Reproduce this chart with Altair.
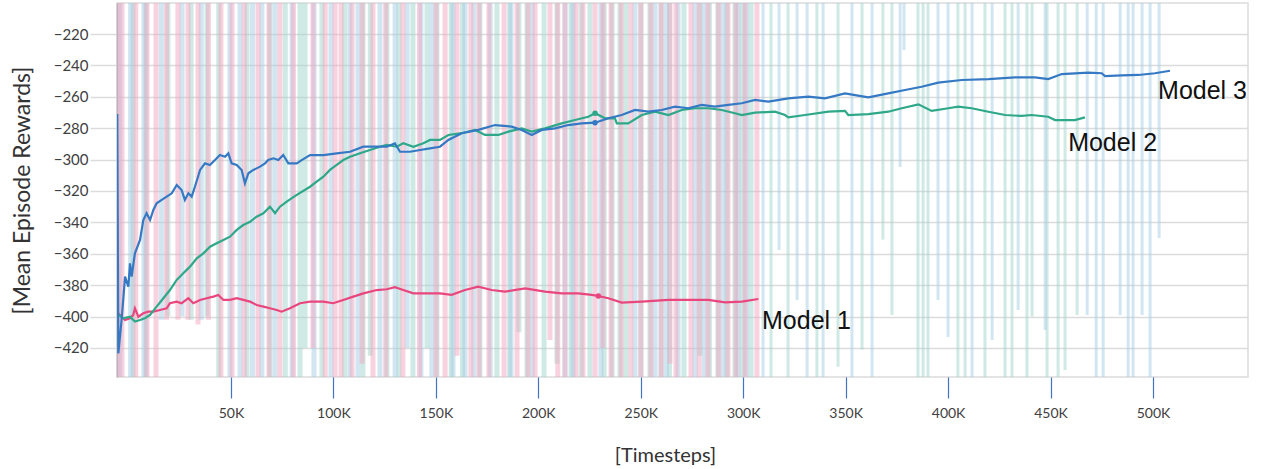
import altair as alt
import pandas as pd

# ---------------- smoothed curves (x in thousands of timesteps) ----------------
m1_x = [-5.8, -4.2, -1.7, 0.7, 2.3, 3.1, 4.8, 7.2, 9.6, 12.1,
        15.3, 18.6, 20.2, 23.5, 25.9, 29.2, 31.6, 34.9, 38.1, 41.4,
        43.8, 46.3, 49.5, 52.8, 56.0, 59.3, 62.5, 65.8, 69.0, 72.3,
        74.7, 78.8, 83.7, 88.6, 95.1, 99.9, 104.8, 109.7, 114.6, 121.1,
        126.0, 130.0, 134.1, 139.0, 145.5, 152.0, 157.7, 164.2, 170.7, 177.2,
        183.7, 193.5, 203.3, 211.4, 219.5, 226.1, 229.3, 234.2, 240.7, 250.5,
        263.5, 273.2, 283.0, 291.1, 299.3, 307.4]
m1_y = [-396.9, -399.0, -402.2, -401.1, -399.0, -394.7, -400.1, -397.9, -396.9, -396.9,
        -395.8, -394.7, -391.5, -390.5, -391.5, -388.3, -391.5, -389.4, -388.3, -387.3,
        -386.2, -389.4, -389.4, -388.3, -389.4, -390.5, -392.6, -393.7, -394.7, -395.8,
        -396.9, -394.7, -391.5, -390.5, -390.5, -391.5, -389.4, -387.3, -385.2, -383.1,
        -382.6, -381.3, -383.1, -385.2, -385.2, -385.2, -386.2, -383.1, -381.0, -383.1,
        -384.1, -382.0, -384.1, -385.2, -385.2, -386.2, -386.9, -388.3, -391.1, -390.5,
        -389.4, -389.4, -389.4, -390.9, -390.5, -388.8]

m2_x = [-5.8, -2.6, 0.7, 3.1, 5.6, 8.0, 10.5, 13.7, 17.0, 20.2,
        23.5, 26.7, 30.0, 33.3, 36.5, 39.8, 43.0, 46.3, 49.5, 52.8,
        56.0, 59.3, 62.5, 65.8, 69.0, 71.5, 73.9, 77.2, 82.1, 88.6,
        91.8, 95.1, 98.3, 101.6, 104.8, 108.1, 113.0, 117.8, 122.7, 126.0,
        130.9, 134.1, 139.0, 143.9, 147.1, 152.0, 156.1, 162.6, 169.1, 174.0,
        180.5, 185.4, 191.9, 196.8, 203.3, 211.4, 217.9, 224.4, 227.7, 232.6,
        237.4, 238.3, 243.9, 250.5, 257.0, 263.5, 270.0, 276.5, 283.0, 289.5,
        296.0, 299.3, 305.8, 315.5, 320.4, 322.0, 330.2, 341.6, 349.7, 351.3,
        361.1, 370.8, 377.4, 385.5, 392.0, 400.1, 405.0, 411.5, 419.7, 427.8,
        435.9, 440.8, 448.9, 452.2, 461.9, 466.8]
m2_y = [-397.9, -401.1, -400.1, -403.2, -402.2, -401.1, -399.0, -393.7, -388.3, -383.1,
        -376.7, -372.4, -368.2, -362.9, -359.7, -355.5, -353.3, -351.2, -349.1, -344.8,
        -341.7, -339.6, -336.4, -334.2, -330.0, -334.2, -330.0, -326.8, -322.5, -317.3,
        -314.1, -310.9, -306.6, -303.4, -300.3, -298.2, -296.0, -293.9, -291.8, -290.7,
        -291.8, -289.6, -291.8, -289.6, -287.5, -287.5, -284.3, -283.2, -281.1, -284.3,
        -284.3, -282.2, -280.1, -282.2, -280.1, -276.9, -274.8, -272.7, -270.5, -273.7,
        -273.7, -276.9, -276.9, -271.6, -269.5, -271.6, -268.4, -267.3, -267.3, -268.4,
        -270.5, -271.6, -270.1, -269.5, -271.6, -273.1, -271.6, -269.5, -269.0, -271.6,
        -271.0, -269.5, -267.3, -264.8, -269.0, -267.3, -266.3, -267.3, -269.5, -271.6,
        -272.2, -271.6, -272.7, -274.8, -274.8, -273.1]

m3_x = [-5.5, -5.0, -3.4, -1.7, -0.1, 0.7, 1.5, 3.1, 5.6, 7.2,
        8.8, 10.5, 12.1, 13.7, 16.2, 18.6, 21.1, 23.5, 25.9, 27.5,
        29.2, 30.8, 32.4, 34.9, 37.3, 39.7, 42.2, 44.6, 47.1, 48.7,
        50.3, 52.8, 55.2, 56.8, 58.5, 60.9, 64.2, 66.6, 68.2, 70.7,
        73.1, 75.5, 78.0, 82.1, 84.5, 88.6, 95.1, 101.6, 108.1, 114.6,
        121.1, 126.0, 130.0, 132.5, 137.4, 142.3, 147.1, 152.0, 156.1, 162.6,
        170.7, 178.9, 187.0, 191.9, 196.8, 201.7, 208.2, 214.6, 221.2, 227.7,
        234.2, 240.7, 247.2, 253.7, 260.2, 266.7, 273.2, 279.7, 286.2, 292.7,
        299.3, 305.8, 312.3, 322.0, 331.8, 339.9, 349.7, 354.6, 361.1, 370.8,
        379.0, 387.1, 395.2, 406.7, 419.7, 432.7, 442.4, 448.9, 455.5, 468.5,
        475.0, 476.6, 484.7, 492.9, 501.0, 508.3]
m3_y = [-271.0, -423.4, -402.2, -374.6, -381.0, -366.1, -374.6, -359.7, -351.2, -338.5,
        -334.2, -338.5, -332.1, -327.8, -325.7, -323.6, -321.5, -316.2, -319.4, -325.7,
        -321.5, -323.6, -317.3, -306.6, -302.4, -303.4, -300.3, -297.1, -298.2, -296.0,
        -302.4, -303.4, -306.6, -315.1, -308.7, -306.6, -304.5, -302.4, -300.3, -299.2,
        -300.3, -297.1, -302.4, -302.4, -300.3, -297.1, -297.1, -296.0, -295.0, -291.8,
        -291.8, -291.8, -289.6, -295.0, -295.0, -293.9, -292.9, -291.8, -287.5, -283.2,
        -281.1, -278.0, -279.0, -281.1, -284.3, -281.1, -280.1, -278.0, -276.9, -276.5,
        -273.7, -271.6, -268.4, -269.5, -268.4, -266.3, -267.3, -265.2, -266.3, -265.2,
        -264.1, -262.0, -263.1, -261.0, -259.9, -261.0, -257.8, -258.9, -260.3, -257.8,
        -255.7, -253.6, -251.0, -249.3, -248.7, -247.6, -247.6, -248.7, -245.5, -244.6,
        -245.0, -246.8, -246.3, -246.1, -245.0, -243.4]

# highlighted points
hl_x = [229.3, 227.7, 227.7]
hl_y = [-386.9, -270.5, -276.5]

# ---------------- raw (unsmoothed) spikes: x position and lowest value ----------------
raw1_x = [-5.2, -3.2, 13.4, 24.1, 29.0, 33.9, 45.1, 50.5, 63.2, 73.9, 90.0, 100.8, 103.7,
          109.1, 119.3, 133.9, 150.1, 154.5, 160.3, 167.1, 175.9, 183.3, 189.6, 198.4,
          205.7, 213.0, 218.4, 221.8, 227.7, 235.5, 245.2, 255.0, 264.3, 267.2, 274.5,
          282.8, 292.6, 300.9, 306.7,
          3.5, 9.0, 18.5, 39.0, 56.5, 68.5, 80.5, 96.0, 114.0, 125.5, 142.0, 171.0,
          195.0, 209.5, 231.5, 240.5, 250.0, 260.0, 278.5, 288.0, 296.5]
raw1_low = [-440, -440, -440, -402, -402, -405, -440, -440, -440, -440, -420, -440, -440,
            -440, -440, -440, -440, -440, -425, -440, -440, -440, -440, -440,
            -415, -440, -440, -440, -440, -440, -440, -440, -430, -440, -440,
            -440, -440, -440, -440,
            -440, -440, -402, -402, -440, -440, -440, -440, -430, -440, -440, -440,
            -440, -440, -420, -440, -440, -440, -440, -440, -440]

raw2_x = [2.2, 19.2, 38.3, 57.8, 69.0, 83.7, 86.1, 94.4, 114.4, 126.1, 138.8, 145.7, 150.5,
          171.5, 179.8, 194.5, 202.8, 209.1, 225.2, 232.1, 239.9, 242.8, 250.1, 259.9,
          271.1, 278.9, 287.7, 296.0, 303.8,
          8.5, 30.5, 44.0, 76.5, 105.5, 118.0, 132.0, 157.5, 163.0, 186.0, 190.5, 216.0,
          221.0, 236.0, 254.5, 264.0, 283.5, 292.0, 299.5,
          313.6, 321.9, 336.0, 346.3, 358.0, 368.2, 372.6, 385.3, 387.8, 390.2, 404.8,
          408.3, 418.0, 427.8, 431.2, 438.5, 441.0, 448.3, 453.7, 457.1, 463.0]
raw2_low = [-440, -400, -400, -440, -440, -440, -420, -440, -440, -440, -440, -420, -440,
            -440, -440, -440, -440, -430, -440, -440, -440, -440, -440, -440,
            -440, -425, -440, -440, -440,
            -440, -402, -440, -440, -440, -425, -440, -440, -440, -440, -410, -440,
            -440, -440, -440, -440, -440, -440, -440,
            -440, -440, -440, -432, -421, -351, -399, -440, -440, -440, -440,
            -440, -440, -440, -440, -440, -400, -440, -440, -434, -399]

raw3_x = [-4.2, 7.5, 26.1, 49.5, 54.4, 65.1, 79.8, 98.8, 108.1, 122.7, 130.1, 142.7, 158.4,
          164.2, 186.7, 217.0, 247.2, 268.2, 276.5, 290.2, 297.5,
          1.0, 16.0, 35.5, 60.5, 71.5, 90.5, 112.0, 136.0, 148.0, 168.5, 176.5, 197.0,
          213.0, 230.5, 257.0, 262.5, 281.0, 301.5,
          309.7, 317.5, 326.3, 331.2, 339.0, 353.1, 362.9, 376.6, 378.5, 395.1, 400.0,
          411.7, 421.5, 434.2, 447.4, 467.9, 472.3, 475.7, 484.0, 487.9, 490.3, 494.7,
          498.6, 503.0]
raw3_low = [-440, -440, -400, -440, -440, -440, -440, -440, -440, -440, -440, -440, -440,
            -440, -440, -440, -440, -440, -440, -440, -440,
            -440, -402, -402, -440, -440, -440, -440, -420, -440, -440, -440, -440,
            -440, -440, -440, -440, -440, -440,
            -440, -357.6, -389.4, -440, -440, -440, -440, -304.7, -230.2, -389.4, -413,
            -440, -414.9, -395.8, -408.5, -399, -440, -440, -399, -440, -440, -399,
            -440, -350]

labels = ["Model 1", "Model 2", "Model 3"]
label_x = [309.2, 458.6, 502.5]
label_y = [-402.8, -289.4, -256.3]

line_colors = ["#e8467c", "#2ea889", "#3579c4"]
raw_colors = ["#f2a7bf", "#9fd3ca", "#a6cde6"]

x_ticks = [50, 100, 150, 200, 250, 300, 350, 400, 450, 500]
y_ticks = [-420, -400, -380, -360, -340, -320, -300, -280, -260, -240, -220]

# ---------------- scales / axes ----------------
xs = alt.Scale(domain=[-5.64, 546.39], nice=False, zero=False)
ys = alt.Scale(domain=[-438.5, -200.25], nice=False, zero=False)

x_axis = alt.Axis(values=x_ticks, grid=False, tickSize=21, tickColor="#4472c4", tickWidth=1.2,
                  labelExpr="datum.value + 'K'", labelFont="Lato", labelFontSize=14,
                  labelColor="#404040", labelPadding=8, domain=False,
                  titleFont="Lato", titleFontSize=20, titleFontWeight="normal",
                  titleColor="#333333", titleX=548, titleY=78, titleAlign="center",
                  titleBaseline="middle")
y_axis = alt.Axis(values=y_ticks, grid=True, gridColor="#dcdcdc", gridWidth=1.5,
                  tickSize=27, tickColor="#dcdcdc", tickWidth=1.5, labelPadding=2,
                  labelFont="Lato", labelFontSize=15, labelColor="#404040",
                  domain=True, domainColor="#a6a6a6", domainWidth=1.5,
                  titleFont="Lato", titleFontSize=23, titleFontWeight="normal",
                  titleColor="#333333", titleX=-95, titleY=187, titleAngle=270,
                  titleAlign="center", titleBaseline="middle")

X = alt.X("x:Q", scale=xs, axis=x_axis, title="[Timesteps]")
Y = alt.Y("y:Q", scale=ys, axis=y_axis, title="[Mean Episode Rewards]")

layers = []
for xs_, lows_, col in [(raw2_x, raw2_low, raw_colors[1]), (raw3_x, raw3_low, raw_colors[2]),
                        (raw1_x, raw1_low, raw_colors[0])]:
    df = pd.DataFrame({"x": xs_, "y": lows_, "top": [-195] * len(xs_)})
    # thinner spikes where the runs are sparse (beyond the first run's end)
    df["w"] = [5 if v < 308 else 3 for v in xs_]
    layers.append(alt.Chart(df).mark_rule(opacity=0.5, color=col, clip=True)
                  .encode(x=X, y=Y, y2="top:Q",
                          strokeWidth=alt.StrokeWidth("w:Q", scale=None)))

for xs_, ys_, col in [(m1_x, m1_y, line_colors[0]), (m2_x, m2_y, line_colors[1]),
                      (m3_x, m3_y, line_colors[2])]:
    df = pd.DataFrame({"x": xs_, "y": ys_, "order": list(range(len(xs_)))})
    layers.append(alt.Chart(df).mark_line(strokeWidth=2.2, color=col, clip=True)
                  .encode(x=X, y=Y, order="order:Q"))

pts = pd.DataFrame({"x": hl_x, "y": hl_y, "c": line_colors})
layers.append(alt.Chart(pts).mark_point(filled=True, size=30, opacity=1)
              .encode(x=X, y=Y, color=alt.Color("c:N", scale=None)))

txt = pd.DataFrame({"x": label_x, "y": label_y, "t": labels})
layers.append(alt.Chart(txt).mark_text(align="left", baseline="middle", font="Liberation Sans",
                                       fontSize=25, color="#111111")
              .encode(x=X, y=Y, text="t:N"))

chart = alt.layer(*layers).properties(
    width=1131, height=374,
    autosize=alt.AutoSizeParams(type="none"),
    padding={"left": 117, "top": 3, "right": 13, "bottom": 92},
    background="white",
).configure_view(stroke="#dcdcdc", strokeWidth=1.5)

chart.save("out.html", embed_options={"renderer": "svg", "actions": False})
